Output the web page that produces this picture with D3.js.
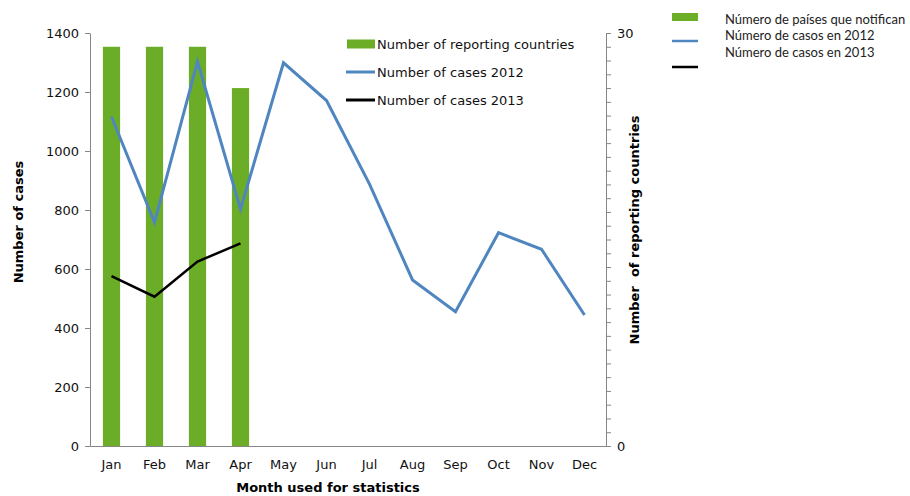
<!DOCTYPE html>
<html><head><meta charset="utf-8">
<script src="https://cdn.jsdelivr.net/npm/d3@7"></script>
<style>body{margin:0;background:#fff}svg{display:block}</style>
</head><body>
<svg id="c" width="910" height="496"></svg>
<script>
const months = ["Jan","Feb","Mar","Apr","May","Jun","Jul","Aug","Sep","Oct","Nov","Dec"];
const reportingCountries = [29, 29, 29, 26];
const cases2012 = [1116, 758, 1303, 803, 1299, 1171, 888, 563, 455, 723, 667, 444];
const cases2013 = [576, 506, 625, 687];
const leftTicks = [0, 200, 400, 600, 800, 1000, 1200, 1400];
const rightTickLabels = [0, 30];
const legendLabels = ["Number of reporting countries", "Number of cases 2012", "Number of cases 2013"];
const legendLabelsEs = ["Número de países que notifican", "Número de casos en 2012", "Número de casos en 2013"];

const green = "#6cad27", blue = "#4f86c0", black = "#000", axisCol = "#868686";
const font = "DejaVu Sans, Verdana, sans-serif";
const svg = d3.select("#c");
const L = 90, R = 606, T = 33, B = 446;

const x = d3.scaleBand().domain(months).range([L, R]).paddingInner(0.6).paddingOuter(0.3);
const xc = m => x(m) + x.bandwidth() / 2;
const y = d3.scaleLinear().domain([0, 1400]).range([B, T]);
const y2 = d3.scaleLinear().domain([0, 30]).range([B, T]);

// bars
svg.append("g").selectAll("rect").data(reportingCountries).join("rect")
  .attr("x", (d, i) => x(months[i])).attr("width", x.bandwidth())
  .attr("y", d => y2(d)).attr("height", d => B - y2(d)).attr("fill", green);

// left axis
const ga = svg.append("g").attr("transform", `translate(${L},0)`)
  .call(d3.axisLeft(y).tickValues(leftTicks).tickFormat(d3.format("d")).tickSize(5).tickPadding(6).tickSizeOuter(0));
ga.selectAll("path,line").attr("stroke", axisCol);
ga.selectAll("text").attr("font-family", font).attr("font-size", 13).attr("fill", "#111");

// right axis
const gr = svg.append("g").attr("transform", `translate(${R},0)`)
  .call(d3.axisRight(y2).ticks(30).tickSize(5).tickPadding(6).tickSizeOuter(0)
    .tickFormat(d => rightTickLabels.includes(d) ? d : ""));
gr.selectAll("path,line").attr("stroke", axisCol);
gr.selectAll("text").attr("font-family", font).attr("font-size", 13).attr("fill", "#111");

// bottom axis
const gb = svg.append("g").attr("transform", `translate(0,${B})`)
  .call(d3.axisBottom(x).tickSize(0).tickPadding(14).tickSizeOuter(0));
gb.selectAll("path").attr("stroke", axisCol);
gb.selectAll("text").attr("font-family", font).attr("font-size", 13).attr("fill", "#111");

// lines
const line = d3.line().x((d, i) => xc(months[i])).y(d => y(d));
svg.append("path").datum(cases2012).attr("d", line).attr("fill", "none")
  .attr("stroke", blue).attr("stroke-width", 3).attr("stroke-linejoin", "miter");
svg.append("path").datum(cases2013).attr("d", line).attr("fill", "none")
  .attr("stroke", black).attr("stroke-width", 2.5);

// axis titles
svg.append("text").attr("transform", `translate(23,222) rotate(-90)`)
  .attr("text-anchor", "middle").attr("font-family", font).attr("font-weight", "bold")
  .attr("font-size", 13).text("Number of cases");
svg.append("text").attr("transform", `translate(639,230) rotate(-90)`)
  .attr("text-anchor", "middle").attr("font-family", font).attr("font-weight", "bold")
  .attr("font-size", 13).attr("xml:space", "preserve").style("white-space", "pre")
  .text("Number  of reporting countries");
svg.append("text").attr("x", 328).attr("y", 492).attr("text-anchor", "middle")
  .attr("font-family", font).attr("font-weight", "bold").attr("font-size", 13)
  .text("Month used for statistics");

// inner legend
const lg = svg.append("g");
const types = ["bar", "line2012", "line2013"];
legendLabels.forEach((t, i) => {
  const yy = 44 + i * 28;
  if (types[i] === "bar") lg.append("rect").attr("x", 347).attr("y", yy - 4.5).attr("width", 28).attr("height", 9).attr("fill", green);
  else lg.append("line").attr("x1", 346).attr("x2", 375).attr("y1", yy).attr("y2", yy)
    .attr("stroke", i === 1 ? blue : black).attr("stroke-width", 3);
  lg.append("text").attr("x", 377).attr("y", yy + 5).attr("font-family", font)
    .attr("font-size", 13).attr("fill", "#111").text(t);
});

// outer (Spanish) legend
const lg2 = svg.append("g");
const lf = "Lato, 'Open Sans', sans-serif";
lg2.append("rect").attr("x", 672).attr("y", 13).attr("width", 26).attr("height", 8).attr("fill", green);
lg2.append("line").attr("x1", 672).attr("x2", 698).attr("y1", 41).attr("y2", 41).attr("stroke", blue).attr("stroke-width", 2.5);
lg2.append("line").attr("x1", 672).attr("x2", 698).attr("y1", 67).attr("y2", 67).attr("stroke", black).attr("stroke-width", 2.5);
[19, 35, 52].forEach((yy, i) => {
  lg2.append("text").attr("x", 725).attr("y", yy + 4.5).attr("font-family", lf)
    .attr("font-size", 13).attr("fill", "#222").text(legendLabelsEs[i]);
});
</script>
</body></html>
